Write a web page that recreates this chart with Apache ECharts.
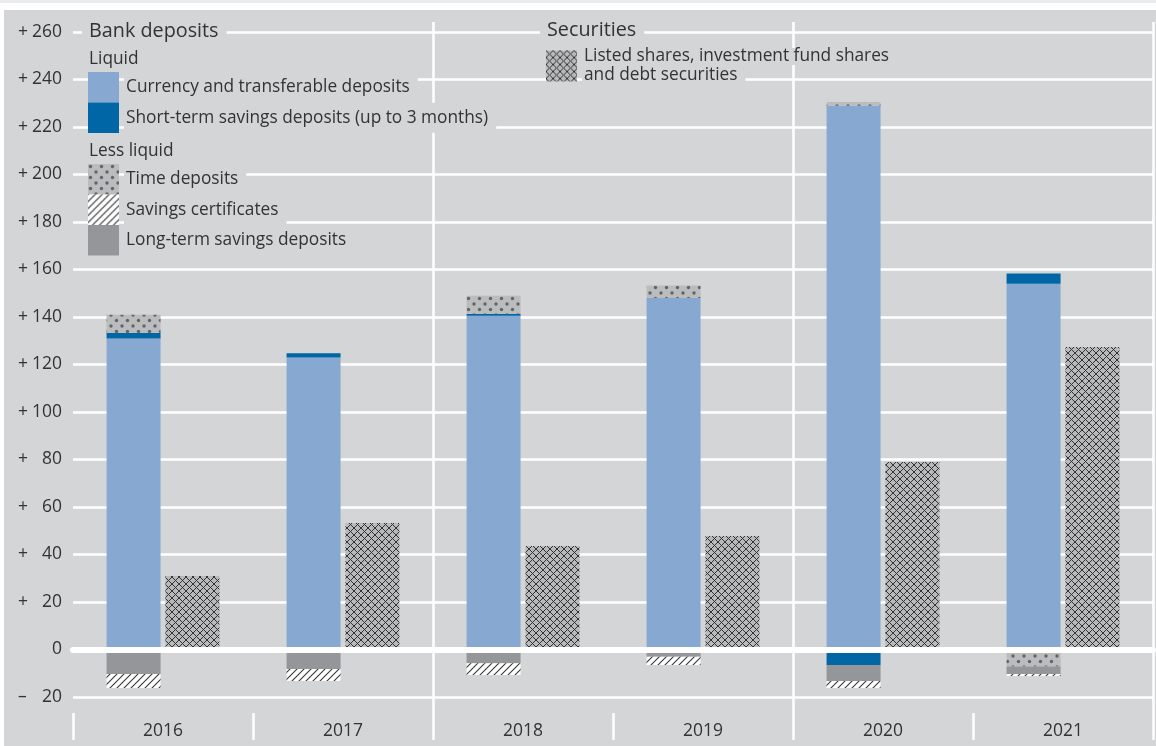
<!DOCTYPE html>
<html>
<head>
<meta charset="utf-8">
<script src="https://cdn.jsdelivr.net/npm/echarts@6/dist/echarts.min.js"></script>
<style>
  body { margin: 0; background: #ffffff; width: 1156px; height: 746px; position: relative; overflow: hidden; }
  #franja { position: absolute; left: 0; top: 0; width: 1156px; height: 3px; background: #ebebed; }
  #grafico { position: absolute; left: 4px; top: 10px; width: 1152px; height: 736px; }
</style>
</head>
<body>
<div id="franja"></div>
<div id="grafico"></div>
<script>
// Datos (mil millones de euros, lectura aproximada)
const years = ['2016', '2017', '2018', '2019', '2020', '2021'];
const currency = [131, 123, 140.5, 148, 229, 154];
const shortTerm = [2.3, 1.7, 0.8, 0, -6.5, 4.3];
const timeDeposits = [7.6, 0, 7.6, 5.3, 1.5, -7.2];
const longTerm = [-10.3, -8.2, -5.8, -3.0, -6.8, -3.1];
const savingsCerts = [-5.9, -5.1, -4.9, -3.5, -2.9, -0.9];
const securities = [31, 53.3, 43.6, 47.8, 79, 127.4];

const fondo = '#d4d5d7';
const texto = '#333333';
const fuente = 'Open Sans';
const tamLeyenda = 17.3;
const tamEje = 17.5;

// Tramas de relleno
function trama(w, h, dibujar) {
    const c = document.createElement('canvas');
    c.width = w;
    c.height = h;
    dibujar(c.getContext('2d'));
    return { image: c, repeat: 'repeat' };
}

const puntos = trama(11, 11, function (ctx) {
    ctx.fillStyle = '#bbbcbe';
    ctx.fillRect(0, 0, 11, 11);
    ctx.fillStyle = '#636467';
    [[2.5, 2.5], [8, 8]].forEach(function (p) {
        ctx.beginPath();
        ctx.arc(p[0], p[1], 1.7, 0, Math.PI * 2);
        ctx.fill();
    });
});

const rayas = trama(7, 7, function (ctx) {
    ctx.fillStyle = '#ffffff';
    ctx.fillRect(0, 0, 7, 7);
    ctx.strokeStyle = '#383838';
    ctx.lineWidth = 1.1;
    ctx.beginPath();
    ctx.moveTo(-1, 8); ctx.lineTo(8, -1);
    ctx.moveTo(-2, 2); ctx.lineTo(2, -2);
    ctx.moveTo(5, 9); ctx.lineTo(9, 5);
    ctx.stroke();
});

const cuadricula = trama(7, 7, function (ctx) {
    ctx.fillStyle = '#b8b9bb';
    ctx.fillRect(0, 0, 7, 7);
    ctx.strokeStyle = '#333333';
    ctx.lineWidth = 1;
    ctx.beginPath();
    ctx.moveTo(-1, -1); ctx.lineTo(8, 8);
    ctx.moveTo(-1, 8); ctx.lineTo(8, -1);
    ctx.stroke();
});

function etiquetaY(v) {
    if (v > 0) return '{s|+}{n|' + v + '}';
    if (v < 0) return '{s|\u2013}{n|' + (-v) + '}';
    return '{n|0}';
}

const separador = function (i) { return i === 2 || i === 4; };

const leyendaTexto = {
    color: texto,
    fontFamily: fuente,
    fontSize: tamLeyenda,
    lineHeight: 30,
    backgroundColor: fondo,
    padding: [0, 8, 0, 2]
};

function titulo(txt, left, top, size) {
    return {
        text: txt,
        left: left,
        top: top,
        z: 20,
        padding: [1, 8, 1, 7],
        backgroundColor: fondo,
        textStyle: { color: texto, fontFamily: fuente, fontSize: size, fontWeight: 'normal', lineHeight: size + 4 }
    };
}

const grafico = echarts.init(document.getElementById('grafico'));
grafico.setOption({
    backgroundColor: fondo,
    animation: false,
    title: [
        titulo('Bank deposits', 78, 8, 19.8),
        titulo('Liquid', 78, 37, tamLeyenda),
        titulo('Less liquid', 78, 129, tamLeyenda),
        titulo('Securities', 536, 7, 19.8)
    ],
    legend: [
        {
            data: ['Currency and transferable deposits', 'Short-term savings deposits (up to 3 months)'],
            orient: 'vertical', left: 84, top: 62, padding: 0, itemGap: 0, z: 20,
            itemWidth: 31, itemHeight: 30.5, icon: 'rect', selectedMode: false,
            textStyle: leyendaTexto
        },
        {
            data: ['Time deposits', 'Savings certificates', 'Long-term savings deposits'],
            orient: 'vertical', left: 84, top: 154, padding: 0, itemGap: 0, z: 20,
            itemWidth: 31, itemHeight: 30.5, icon: 'rect', selectedMode: false,
            textStyle: leyendaTexto
        },
        {
            data: ['Listed shares, investment fund shares and debt securities'],
            orient: 'vertical', left: 542, top: 38, padding: 0, itemGap: 0, z: 20,
            itemWidth: 31, itemHeight: 31, icon: 'rect', selectedMode: false,
            formatter: function () {
                return '{a|Listed shares, investment fund shares}\n{a|and debt securities}';
            },
            textStyle: {
                color: texto, fontFamily: fuente, fontSize: tamLeyenda,
                rich: { a: { color: texto, fontFamily: fuente, fontSize: tamLeyenda, lineHeight: 19, backgroundColor: fondo, padding: [0, 8, 0, 2] } }
            }
        }
    ],
    grid: { left: 69, right: 3, top: 22, bottom: 49 },
    xAxis: [
        {
            type: 'category', data: years, z: 5,
            axisLine: { onZero: true, lineStyle: { color: '#ffffff', width: 6 } },
            axisTick: { show: false },
            axisLabel: { show: false },
            splitLine: { show: true, interval: separador, lineStyle: { color: '#ffffff', width: 2.5 } }
        },
        {
            type: 'category', data: years, position: 'bottom', offset: 16,
            axisLine: { show: false, onZero: false },
            axisTick: { show: true, interval: 0, length: 27, lineStyle: { color: '#ffffff', width: 2.5 } },
            axisLabel: { color: texto, fontFamily: fuente, fontSize: tamEje, margin: 9 }
        },
        {
            type: 'category', data: years, position: 'bottom', offset: 0,
            axisLine: { show: false, onZero: false },
            axisTick: { show: true, interval: separador, length: 43, lineStyle: { color: '#ffffff', width: 2.5 } },
            axisLabel: { show: false }
        },
        {
            type: 'category', data: years, position: 'top', offset: 0,
            axisLine: { show: false, onZero: false },
            axisTick: { show: true, interval: separador, length: 10, lineStyle: { color: '#ffffff', width: 2.5 } },
            axisLabel: { show: false }
        }
    ],
    yAxis: {
        type: 'value', min: -20, max: 260, interval: 20,
        axisLine: { show: false },
        axisTick: { show: false },
        splitLine: { lineStyle: { color: '#ffffff', width: 2.5 } },
        axisLabel: {
            margin: 11,
            formatter: etiquetaY,
            rich: {
                s: { width: 10, align: 'left', color: texto, fontFamily: fuente, fontSize: tamEje },
                n: { width: 34, align: 'right', color: texto, fontFamily: fuente, fontSize: tamEje }
            }
        }
    },
    series: [
        { name: 'Currency and transferable deposits', type: 'bar', stack: 'banco', data: currency, barWidth: 54, barGap: '9%', itemStyle: { color: '#87a8d0' } },
        { name: 'Short-term savings deposits (up to 3 months)', type: 'bar', stack: 'banco', data: shortTerm, barWidth: 54, itemStyle: { color: '#0066a5' } },
        { name: 'Time deposits', type: 'bar', stack: 'banco', data: timeDeposits, barWidth: 54, itemStyle: { color: puntos } },
        { name: 'Long-term savings deposits', type: 'bar', stack: 'banco', data: longTerm, barWidth: 54, itemStyle: { color: '#959699' } },
        { name: 'Savings certificates', type: 'bar', stack: 'banco', data: savingsCerts, barWidth: 54, itemStyle: { color: rayas } },
        { name: 'Listed shares, investment fund shares and debt securities', type: 'bar', stack: 'valores', data: securities, barWidth: 54, barGap: '9%', itemStyle: { color: cuadricula } }
    ]
});
</script>
</body>
</html>
